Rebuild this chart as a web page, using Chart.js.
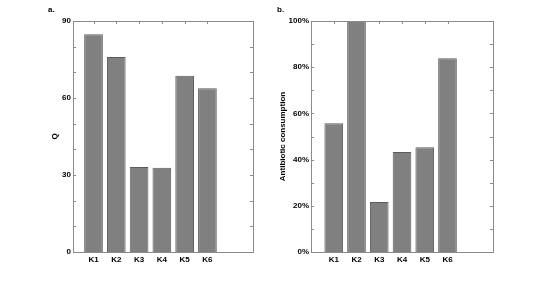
<!DOCTYPE html>
<html>
<head>
<meta charset="utf-8">
<script src="https://cdn.jsdelivr.net/npm/chart.js@4"></script>
<style>
  body { margin: 0; background: #fff; }
  #wrap { position: relative; width: 545px; height: 284px; }
  .panel { position: absolute; top: 0; height: 284px; }
</style>
</head>
<body>
<div id="wrap">
  <div class="panel" style="left:0;width:272px"><canvas id="chartA"></canvas></div>
  <div class="panel" style="left:272px;width:273px"><canvas id="chartB"></canvas></div>
</div>
<script>
// Categories (clusters)
const categories = ['K1', 'K2', 'K3', 'K4', 'K5', 'K6'];
// Panel a: Q values
const qValues = [84.8, 76.0, 33.1, 32.8, 68.7, 63.8];
// Panel b: antibiotic consumption (%)
const abxValues = [55.7, 100, 21.6, 43.3, 45.3, 83.9];
// Tick labels
const qTicks = [0, 30, 60, 90];
const abxTicks = [0, 20, 40, 60, 80, 100];

const FONT = 'Liberation Sans, Arial, Helvetica, sans-serif';
const axisGray = '#8a8a8a';

// Draws the box around the plot plus MATLAB-like inward tick marks
const boxPlugin = {
  id: 'box',
  afterDatasetsDraw(chart, args, opts) {
    const { ctx, chartArea: a, scales } = chart;
    ctx.save();
    ctx.strokeStyle = axisGray;
    ctx.lineWidth = 1;
    ctx.beginPath();
    // minor ticks on left and right
    for (let v = scales.y.min; v <= scales.y.max; v += opts.minor) {
      const y = Math.round(scales.y.getPixelForValue(v)) + 0.5;
      ctx.moveTo(a.left, y); ctx.lineTo(a.left + 3, y);
      ctx.moveTo(a.right, y); ctx.lineTo(a.right - 3, y);
    }
    // category ticks along the top
    categories.forEach((c, i) => {
      const x = Math.round(scales.x.getPixelForValue(i + 1)) + 0.5;
      ctx.moveTo(x, a.top); ctx.lineTo(x, a.top + 3);
    });
    ctx.stroke();
    ctx.beginPath();
    ctx.strokeRect(Math.round(a.left) + 0.5, Math.round(a.top) + 0.5,
      Math.round(a.right - a.left), Math.round(a.bottom - a.top));
    ctx.stroke();
    // panel letter
    ctx.fillStyle = '#000';
    ctx.font = 'bold 8px ' + FONT;
    ctx.textBaseline = 'alphabetic';
    ctx.fillText(opts.letter, opts.lx, opts.ly);
    ctx.restore();
  }
};

function makeChart(id, values, ticks, cfg) {
  return new Chart(document.getElementById(id), {
    type: 'bar',
    data: {
      datasets: [{
        data: values.map((v, i) => ({ x: i + 1, y: v })),
        backgroundColor: '#808080',
        borderColor: '#5c5c5c',
        borderWidth: { left: 1, right: 1, top: 1, bottom: 0 },
        barPercentage: 0.82,
        categoryPercentage: 1
      }]
    },
    options: {
      responsive: false,
      animation: false,
      devicePixelRatio: 1,
      layout: { padding: { left: 0, right: cfg.padRight, top: 21, bottom: 0 } },
      plugins: {
        legend: { display: false },
        tooltip: { enabled: false },
        box: { minor: cfg.minor, letter: cfg.letter, lx: cfg.lx, ly: 12 }
      },
      scales: {
        x: {
          type: 'linear',
          offset: false,
          min: cfg.xMin,
          max: 8,
          grid: { display: false, drawTicks: false, offset: false },
          border: { display: false },
          afterBuildTicks: s => { s.ticks = categories.map((c, i) => ({ value: i + 1 })); },
          afterFit: s => { s.height = 32; },
          ticks: {
            callback: v => categories[v - 1] || '',
            color: '#000',
            padding: 3,
            maxRotation: 0,
            font: { family: FONT, size: 8, weight: 'bold' }
          }
        },
        y: {
          min: 0,
          max: ticks[ticks.length - 1],
          grid: { display: false, drawTicks: false },
          border: { display: false },
          afterBuildTicks: s => { s.ticks = ticks.map(v => ({ value: v })); },
          afterFit: s => { s.width = cfg.yWidth; },
          ticks: {
            callback: cfg.fmt,
            color: '#000',
            padding: 2,
            font: { family: FONT, size: 8, weight: 'bold' }
          },
          title: {
            display: true,
            text: cfg.title,
            color: '#000',
            padding: { top: cfg.titlePad, bottom: 0 },
            font: { family: FONT, size: 8, weight: 'bold' }
          }
        }
      }
    },
    plugins: [boxPlugin]
  });
}

function sizeCanvas(id, w, h) {
  const c = document.getElementById(id);
  c.width = w; c.height = h;
  c.style.width = w + 'px'; c.style.height = h + 'px';
}
sizeCanvas('chartA', 272, 284);
sizeCanvas('chartB', 273, 284);

makeChart('chartA', qValues, qTicks, {
  padRight: 19, yWidth: 73, xMin: 0.1, minor: 10,
  title: 'Q', titlePad: 50, letter: 'a.', lx: 48,
  fmt: v => String(v)
});
makeChart('chartB', abxValues, abxTicks, {
  padRight: 52, yWidth: 39, xMin: 0, minor: 10,
  title: 'Antibiotic consumption', titlePad: 6, letter: 'b.', lx: 5,
  fmt: v => v + '%'
});
</script>
</body>
</html>
